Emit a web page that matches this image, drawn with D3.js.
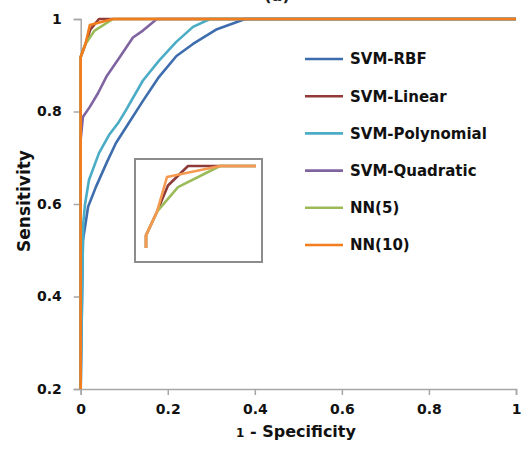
<!DOCTYPE html>
<html><head><meta charset="utf-8">
<script src="https://cdn.jsdelivr.net/npm/d3@7"></script>
<style>html,body{margin:0;padding:0;background:#fff;}svg{display:block;}</style>
</head><body>
<svg id="chart" width="527" height="455"></svg>
<script>
const seriesNames = ["SVM-RBF","SVM-Linear","SVM-Polynomial","SVM-Quadratic","NN(5)","NN(10)"];
const seriesColors = ["#3E6DAE","#923A37","#4BACC6","#8064A2","#9BBB59","#F27D1E"];
const xTicks = [0,0.2,0.4,0.6,0.8,1];
const yTicks = [0.2,0.4,0.6,0.8,1];

const svmRbf = [[0,0.2],[0.005,0.52],[0.017,0.594],[0.035,0.637],[0.06,0.69],[0.081,0.732],[0.109,0.773],[0.143,0.823],[0.18,0.875],[0.22,0.92],[0.258,0.946],[0.313,0.978],[0.378,1],[1,1]];
const svmLinear = [[0,0.2],[0,0.918],[0.011,0.946],[0.016,0.96],[0.022,0.977],[0.042,1],[1,1]];
const svmPoly = [[0,0.2],[0.003,0.4],[0.006,0.56],[0.01,0.6],[0.019,0.652],[0.042,0.71],[0.065,0.749],[0.086,0.775],[0.104,0.803],[0.143,0.867],[0.18,0.91],[0.219,0.95],[0.258,0.983],[0.297,1],[1,1]];
const svmQuad = [[0,0.2],[0,0.74],[0.005,0.788],[0.021,0.81],[0.04,0.84],[0.06,0.877],[0.088,0.915],[0.12,0.96],[0.143,0.975],[0.175,1],[1,1]];
const nn5 = [[0,0.2],[0,0.918],[0.011,0.946],[0.032,0.975],[0.074,1],[1,1]];
const nn10 = [[0,0.2],[0,0.918],[0.011,0.946],[0.021,0.987],[0.074,1],[0.109,1],[1,1]];
const seriesData = [svmRbf, svmLinear, svmPoly, svmQuad, nn5, nn10];
// series shown in the magnified inset (indices into seriesData)
const insetSeries = [1,4,5];
const insetColors = ["#8E3A3A","#9BBB59","#F59A50"];

const svg = d3.select("#chart");
const font = "'DejaVu Sans', sans-serif";

const x = d3.scaleLinear().domain([0,1]).range([80.7,516]);
const y = d3.scaleLinear().domain([0.2,1]).range([389,19]);

// title (mostly cut off at top)
svg.append("text").attr("x",277).attr("y",0.5).attr("text-anchor","middle")
  .style("font-family",font).style("font-weight","bold").style("font-size","16px").attr("fill","#222").text("(a)");

// axes
const xAxis = svg.append("g").attr("transform","translate(0,389)")
  .call(d3.axisBottom(x).tickValues(xTicks).tickSize(6).tickPadding(9)
  .tickFormat(d => d===0?"0":d===1?"1":d3.format(".1f")(d)));
const yAxis = svg.append("g").attr("transform","translate(80.7,0)")
  .call(d3.axisLeft(y).tickValues(yTicks).tickSize(7).tickPadding(12)
  .tickFormat(d => d===1?"1":d3.format(".1f")(d)));
[xAxis,yAxis].forEach(g=>{
  g.select(".domain").attr("stroke","#A6A6A6").attr("stroke-width",1.5);
  g.selectAll(".tick line").attr("stroke","#A6A6A6").attr("stroke-width",1.5);
  g.selectAll(".tick text").attr("fill","#111").style("font-family",font).style("font-weight","bold").style("font-size","14px");
});

// axis titles
svg.append("text").attr("transform","translate(30,201) rotate(-90)").attr("text-anchor","middle")
  .style("font-family",font).style("font-weight","bold").style("font-size","17px").attr("fill","#111").text("Sensitivity");
const xt = svg.append("text").attr("x",296).attr("y",437).attr("text-anchor","middle")
  .style("font-family",font).style("font-weight","bold").attr("fill","#111");
xt.append("tspan").style("font-size","12px").text("1");
xt.append("tspan").style("font-size","16px").text(" - Specificity");

// main lines
const line = d3.line().x(d=>x(d[0])).y(d=>y(d[1]));
svg.append("g").selectAll("path").data(seriesData).join("path")
  .attr("d",line).attr("fill","none")
  .attr("stroke",(d,i)=>seriesColors[i]).attr("stroke-width",2.6)
  .attr("stroke-linejoin","round");

// inset
svg.append("rect").attr("x",135).attr("y",159).attr("width",127).attr("height",103)
  .attr("fill","#fff").attr("stroke","#8C8C8C").attr("stroke-width",2);
const xi = d3.scaleLinear().domain([0,0.11]).range([146,256]);
const yi = d3.scaleLinear().domain([0.9,1]).range([250.6,166]);
svg.append("clipPath").attr("id","insetClip").append("rect")
  .attr("x",143).attr("y",160).attr("width",113).attr("height",88);
const lineI = d3.line().x(d=>xi(d[0])).y(d=>yi(d[1]));
svg.append("g").attr("clip-path","url(#insetClip)").selectAll("path").data(insetSeries).join("path")
  .attr("d",i=>lineI(seriesData[i])).attr("fill","none")
  .attr("stroke",(d,k)=>insetColors[k]).attr("stroke-width",2.6).attr("stroke-linejoin","round");

// legend
const leg = svg.append("g").selectAll("g").data(seriesNames).join("g")
  .attr("transform",(d,i)=>`translate(305,${59+i*37.2})`);
leg.append("line").attr("x1",0).attr("x2",38).attr("y1",0).attr("y2",0)
  .attr("stroke",(d,i)=>seriesColors[i]).attr("stroke-width",2.6);
leg.append("text").attr("x",45).attr("y",0).attr("dy","0.36em")
  .style("font-family",font).style("font-weight","bold").style("font-size","15px").attr("fill","#111").text(d=>d);
</script>
</body></html>
